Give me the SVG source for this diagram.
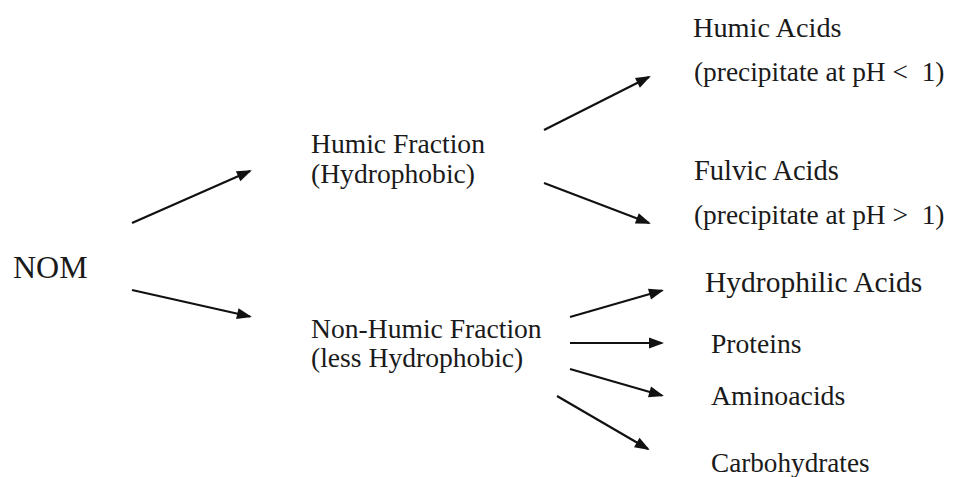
<svg xmlns="http://www.w3.org/2000/svg" width="955" height="477" viewBox="0 0 955 477">
<style>
  text { font-family: "Liberation Serif", "Times New Roman", serif; font-size: 27.6px; fill: #1a1a1a; white-space: pre; }
  .big { font-size: 32px; }
  .conn line { stroke: #111; stroke-width: 2.2; fill: none; marker-end: url(#arrow); }
</style>
<defs>
  <marker id="arrow" markerUnits="userSpaceOnUse" markerWidth="16" markerHeight="12" viewBox="0 0 15 12" refX="13" refY="6" orient="auto">
    <path d="M0,0.5 L15,6 L0,11.5 z" fill="#111"/>
  </marker>
</defs>
<rect width="955" height="477" fill="#fff"/>
<g id="nom"><text class="big" x="13" y="278">NOM</text></g>
<g id="humic-fraction"><text x="311" y="153">Humic Fraction</text><text x="311" y="183">(Hydrophobic)</text></g>
<g id="non-humic-fraction"><text x="311" y="338">Non-Humic Fraction</text><text x="311" y="367">(less Hydrophobic)</text></g>
<g id="humic-acids"><text x="693" y="37" style="font-size:28.3px">Humic Acids</text><text x="694" y="81" style="font-size:27.4px">(precipitate at pH &lt;  1)</text></g>
<g id="fulvic-acids"><text x="694" y="180" style="font-size:28.5px">Fulvic Acids</text><text x="694" y="224" style="font-size:27.4px">(precipitate at pH &gt;  1)</text></g>
<g id="hydrophilic-acids"><text x="705" y="292" style="font-size:29.5px">Hydrophilic Acids</text></g>
<g id="proteins"><text x="711" y="353">Proteins</text></g>
<g id="aminoacids"><text x="711" y="405" style="font-size:27.8px">Aminoacids</text></g>
<g id="carbohydrates"><text x="711" y="472" style="font-size:27.2px">Carbohydrates</text></g>
<g id="connectors" class="conn">
  <line x1="132" y1="223" x2="250" y2="171"/>
  <line x1="132" y1="290" x2="250" y2="316.5"/>
  <line x1="544" y1="130" x2="649" y2="77"/>
  <line x1="544" y1="183" x2="649" y2="223"/>
  <line x1="570" y1="317" x2="662" y2="290.5"/>
  <line x1="570" y1="343" x2="662" y2="343"/>
  <line x1="570" y1="369" x2="662" y2="395.5"/>
  <line x1="557" y1="396" x2="648" y2="449"/>
</g>
</svg>
